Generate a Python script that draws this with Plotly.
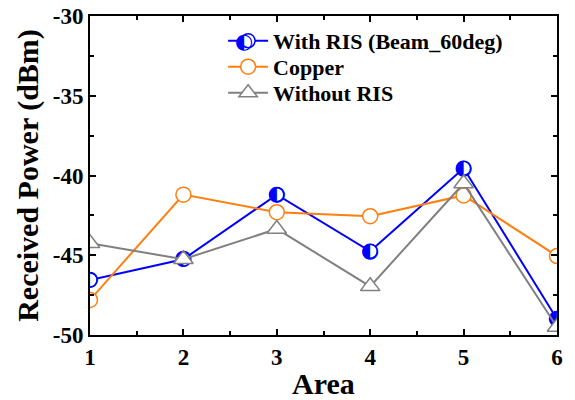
import plotly.graph_objects as go

areas = [1, 2, 3, 4, 5, 6]
with_ris = [-46.55, -45.25, -41.2, -44.75, -39.55, -49.0]
copper = [-47.8, -41.2, -42.3, -42.55, -41.25, -45.05]
without_ris = [-44.25, -45.25, -43.35, -46.95, -40.5, -49.5]

y_ticks = [-50, -45, -40, -35, -30]

BLUE = "#0000ff"
ORANGE = "#ff7f0e"
GRAY = "#808080"
FONT = "Liberation Serif"

fig = go.Figure()

fig.add_trace(go.Scatter(
    x=areas, y=with_ris, mode="lines+markers", name="With RIS (Beam_60deg)",
    line=dict(color=BLUE, width=2), legend="legend",
    marker=dict(symbol="circle", size=14, color="white", line=dict(color=BLUE, width=1.5)),
))
fig.add_trace(go.Scatter(
    x=areas, y=with_ris, mode="text", text=["◐"] * len(areas), showlegend=False,
    textfont=dict(family="DejaVu Sans", size=21, color=BLUE), textposition="middle center",
    hoverinfo="skip",
))
fig.add_trace(go.Scatter(
    x=areas, y=copper, mode="lines+markers", name="Copper",
    line=dict(color=ORANGE, width=2), legend="legend2",
    marker=dict(symbol="circle", size=15, color="white", line=dict(color=ORANGE, width=1.5)),
))
fig.add_trace(go.Scatter(
    x=areas, y=without_ris, mode="lines+markers", name="Without RIS",
    line=dict(color=GRAY, width=2), legend="legend3",
    marker=dict(symbol="triangle-up", size=17, color="white", line=dict(color=GRAY, width=1.5)),
))

axis_common = dict(
    showline=True, linecolor="black", linewidth=2, mirror="allticks",
    ticks="inside", ticklen=6, tickwidth=1.5, tickcolor="black",
    showgrid=False, zeroline=False, automargin=False, ticklabeloverflow="allow",
    tickfont=dict(family=FONT, size=23, color="black", weight="bold"),
)

fig.update_xaxes(
    range=[1, 6], tickvals=areas, ticktext=[str(a) for a in areas],
    minor=dict(ticks="inside", ticklen=4, tickwidth=1.5, tickcolor="black", dtick=0.5, tick0=1),
    title=dict(text="Area", font=dict(family=FONT, size=30, color="black", weight="bold"), standoff=5),
    **axis_common,
)
fig.update_yaxes(
    range=[-50, -30], tickvals=y_ticks, ticktext=[str(v) for v in y_ticks],
    minor=dict(ticks="inside", ticklen=4, tickwidth=1.5, tickcolor="black", dtick=2.5, tick0=-50),
    title=dict(text="Received Power (dBm)", font=dict(family=FONT, size=30, color="black", weight="bold"), standoff=5),
    **axis_common,
)

legend_font = dict(family=FONT, size=22, color="black", weight="bold")
legend_common = dict(
    x=0.285, xanchor="left", yanchor="middle",
    bgcolor="rgba(0,0,0,0)", borderwidth=0, font=legend_font, itemwidth=40,
)

# the page body adds an 8 px offset, so the figure is sized/margined to compensate
fig.update_layout(
    width=567, height=392,
    margin=dict(l=82, r=18, t=8, b=65),
    paper_bgcolor="white", plot_bgcolor="white",
    showlegend=True,
    legend=dict(y=0.922, **legend_common),
    legend2=dict(y=0.8406, **legend_common),
    legend3=dict(y=0.759, **legend_common),
    annotations=[dict(
        xref="paper", yref="paper", x=0.330, y=0.922, text="◐", showarrow=False,
        font=dict(family="DejaVu Sans", size=21, color=BLUE), xanchor="center", yanchor="middle",
    )],
)

fig.write_html("out.html")
